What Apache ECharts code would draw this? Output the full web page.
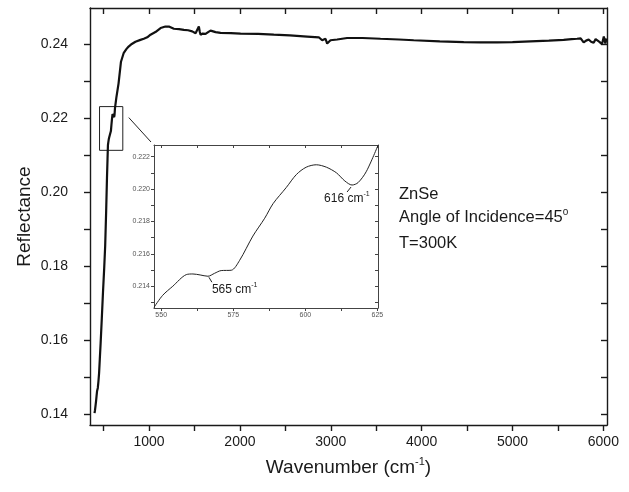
<!DOCTYPE html>
<html><head><meta charset="utf-8">
<script src="https://cdn.jsdelivr.net/npm/echarts@6/dist/echarts.min.js"></script>
<style>html,body{margin:0;padding:0;background:#fff}#c{width:629px;height:492px}</style>
</head><body><div id="c"></div>
<script>
// ---- data ----
const mainWavenumber = [400,405,411,417,422,428,436,443,450,458,467,480,493,506,517,528,537,543,547.5,551,556,561,566,571,575,580,586,592,598,604,610,616,620,625,640,664,691,720,750,775,810,850,905,942,980,1016,1070,1127,1180,1218,1273,1330,1383,1430,1475,1512,1530,1548,1558,1567,1590,1622,1650,1677,1705,1732,1787,1900,2007,2200,2373,2550,2740,2868,2890,2905,2925,2942,2960,2975,2997,3070,3180,3350,3547,3750,3913,4200,4463,4650,4830,5000,5197,5400,5563,5650,5710,5750,5783,5810,5838,5865,5893,5915,5930,5960,5985,6005,6022,6035];
const mainReflectance = [0.1404,0.1412,0.1424,0.1437,0.1450,0.1464,0.1472,0.1490,0.1512,0.1550,0.1593,0.1660,0.1730,0.1794,0.1855,0.1950,0.2040,0.2090,0.2127,0.2134,0.2142,0.21476,0.21462,0.21497,0.2150,0.2165,0.2182,0.2198,0.2211,0.2215,0.2211,0.22025,0.2209,0.2227,0.2255,0.2293,0.2352,0.2375,0.2386,0.2393,0.2400,0.2406,0.2411,0.2414,0.2418,0.2425,0.2432,0.2443,0.2447,0.2447,0.2441,0.2440,0.2438,0.2437,0.2434,0.2429,0.2432,0.2447,0.2433,0.2425,0.2428,0.2427,0.2432,0.2436,0.2434,0.2432,0.2430,0.2429,0.2428,0.2427,0.2425,0.2423,0.2420,0.2418,0.2416,0.2410,0.2413,0.2414,0.2401,0.2404,0.2410,0.2412,0.2416,0.2416,0.2414,0.2412,0.2410,0.2407,0.2405,0.2404,0.2404,0.2405,0.2407,0.2409,0.2411,0.2413,0.2414,0.2415,0.2404,0.2409,0.2412,0.2406,0.2403,0.2413,0.2418,0.2405,0.2399,0.2420,0.2401,0.2415];
const insetWavenumber = [547.5,550.5,554,558.7,561,563.5,566.2,568.5,570.8,574.3,577.2,581.8,585.9,588.8,593.4,596.9,600.3,603.8,607.3,610.8,613.7,616.2,618.3,621.2,625.2];
const insetReflectance = [0.2127,0.21344,0.2140,0.21472,0.21476,0.2147,0.21462,0.2148,0.21497,0.21499,0.2156,0.2171,0.2182,0.2191,0.2201,0.2209,0.22135,0.2215,0.22135,0.2210,0.2205,0.22025,0.2204,0.2211,0.2227];
const mainXTicks = [500,1000,1500,2000,2500,3000,3500,4000,4500,5000,5500,6000];
const mainXLabels = [1000,2000,3000,4000,5000,6000];
const mainYTicks = [0.14,0.15,0.16,0.17,0.18,0.19,0.20,0.21,0.22,0.23,0.24];
const mainYLabels = [0.14,0.16,0.18,0.20,0.22,0.24];
const insetXTicks = [550,562.5,575,587.5,600,612.5,625];
const insetXLabels = [550,575,600,625];
const insetYTicks = [0.213,0.214,0.215,0.216,0.217,0.218,0.219,0.220,0.221,0.222];
const insetYLabels = [0.214,0.216,0.218,0.220,0.222];
const peakLabels = ['565', '616'];
const peakPositions = [566.2, 616.2];
const peakValues = [0.21462, 0.22025];
const zoomBox = {x0: 455, x1: 711, y0: 0.2113, y1: 0.2231};

const FONT = 'Liberation Sans, Arial, Helvetica, sans-serif';
const chart = echarts.init(document.getElementById('c'), null, {renderer: 'canvas'});

const AX = '#1a1a1a';
function xAx(grid, pos, min, max, ticks, labels, opt) {
  const inside = pos === 'top';
  return {
    type: 'value', gridIndex: grid, position: pos, min: min, max: max,
    axisLine: {show: true, onZero: false, lineStyle: {color: opt.color, width: opt.w}},
    axisTick: {show: true, inside: inside, length: opt.tl, customValues: ticks, lineStyle: {color: opt.color, width: opt.w}},
    axisLabel: {show: !inside, customValues: labels, fontSize: opt.fs, color: opt.lc, fontFamily: FONT, margin: opt.m,
      formatter: v => opt.fmt(v)},
    splitLine: {show: false}
  };
}
function yAx(grid, pos, min, max, ticks, labels, opt) {
  const inside = pos === 'right';
  return {
    type: 'value', gridIndex: grid, position: pos, min: min, max: max,
    axisLine: {show: true, onZero: false, lineStyle: {color: opt.color, width: opt.w}},
    axisTick: {show: true, inside: inside, length: opt.tl, customValues: ticks, lineStyle: {color: opt.color, width: opt.w}},
    axisLabel: {show: !inside, customValues: labels, fontSize: opt.fs, color: opt.lc, fontFamily: FONT, margin: opt.m,
      formatter: v => opt.fmt(v)},
    splitLine: {show: false}
  };
}
const mainOptX = {color: AX, w: 1.4, tl: 6, fs: 14, lc: '#1a1a1a', m: 10, fmt: v => String(Math.round(v))};
const mainOptY = {color: AX, w: 1.4, tl: 6, fs: 14, lc: '#1a1a1a', m: 22, fmt: v => v.toFixed(2)};
const inOptX = {color: '#444', w: 1, tl: 3, fs: 7, lc: '#555', m: 4, fmt: v => String(Math.round(v))};
const inOptY = {color: '#444', w: 1, tl: 3, fs: 7, lc: '#555', m: 4, fmt: v => v.toFixed(3)};

const xMain = xAx(0, 'bottom', 350, 6040, mainXTicks, mainXLabels, mainOptX);
xMain.name = '{n|Wavenumber (cm}{s|-1}{n|)}';
xMain.nameLocation = 'middle';
xMain.nameGap = 31;
xMain.nameMoveOverlap = false;
xMain.nameTextStyle = {rich: {
  n: {fontSize: 19, fontFamily: FONT, color: '#1a1a1a', lineHeight: 23},
  s: {fontSize: 11, fontFamily: FONT, color: '#1a1a1a', verticalAlign: 'top', lineHeight: 23}
}};
const yMain = yAx(0, 'left', 0.1372, 0.2497, mainYTicks, mainYLabels, mainOptY);
yMain.name = 'Reflectance';
yMain.nameLocation = 'middle';
yMain.nameGap = 56;
yMain.nameMoveOverlap = false;
yMain.nameTextStyle = {fontSize: 19, fontFamily: FONT, color: '#1a1a1a'};

const option = {
  animation: false,
  backgroundColor: '#fff',
  grid: [
    {left: 90, right: 22, top: 8, bottom: 67},
    {left: 154, top: 145, width: 224, height: 163}
  ],
  xAxis: [
    xMain,
    xAx(0, 'top', 350, 6040, mainXTicks, mainXLabels, mainOptX),
    xAx(1, 'bottom', 547.5, 625.2, insetXTicks, insetXLabels, inOptX),
    xAx(1, 'top', 547.5, 625.2, insetXTicks, insetXLabels, inOptX)
  ],
  yAxis: [
    yMain,
    yAx(0, 'right', 0.1372, 0.2497, mainYTicks, mainYLabels, mainOptY),
    yAx(1, 'left', 0.21266, 0.22272, insetYTicks, insetYLabels, inOptY),
    yAx(1, 'right', 0.21266, 0.22272, insetYTicks, insetYLabels, inOptY)
  ],
  series: [
    {
      type: 'line', xAxisIndex: 0, yAxisIndex: 0, showSymbol: false, z: 3,
      data: mainWavenumber.map((w, i) => [w, mainReflectance[i]]),
      lineStyle: {color: '#111', width: 2.2},
      markArea: {silent: true, itemStyle: {color: 'rgba(0,0,0,0)', borderColor: '#222', borderWidth: 1},
        data: [[{xAxis: zoomBox.x0, yAxis: zoomBox.y0}, {xAxis: zoomBox.x1, yAxis: zoomBox.y1}]]}
    },
    {
      type: 'line', xAxisIndex: 2, yAxisIndex: 2, showSymbol: false, smooth: 0.3, z: 5,
      data: insetWavenumber.map((w, i) => [w, insetReflectance[i]]),
      lineStyle: {color: '#222', width: 1}
    }
  ]
};
chart.setOption(option);

// decorations: leader lines & annotation texts
const boxPt = chart.convertToPixel({xAxisIndex: 0, yAxisIndex: 0}, [zoomBox.x1, zoomBox.y1]);
const insetCorner = chart.convertToPixel({xAxisIndex: 2, yAxisIndex: 2}, [547.5, 0.22272]);
const p1 = chart.convertToPixel({xAxisIndex: 2, yAxisIndex: 2}, [peakPositions[0], peakValues[0]]);
const p2 = chart.convertToPixel({xAxisIndex: 2, yAxisIndex: 2}, [peakPositions[1], peakValues[1]]);
const richTxt = (fs) => ({
  n: {fontSize: fs, fontFamily: FONT, fill: '#1a1a1a', lineHeight: fs + 4},
  s: {fontSize: Math.round(fs * 0.6), fontFamily: FONT, fill: '#1a1a1a', verticalAlign: 'top', lineHeight: fs + 4}
});
chart.setOption({graphic: [
  {type: 'line', shape: {x1: boxPt[0] + 6, y1: boxPt[1] + 11, x2: insetCorner[0] - 3, y2: insetCorner[1] - 3},
   style: {stroke: '#222', lineWidth: 1}},
  {type: 'line', shape: {x1: p1[0] + 1, y1: p1[1] + 1, x2: p1[0] + 4, y2: p1[1] + 6}, style: {stroke: '#222', lineWidth: 1}},
  {type: 'line', shape: {x1: p2[0] - 1, y1: p2[1] + 2, x2: p2[0] - 5, y2: p2[1] + 7}, style: {stroke: '#222', lineWidth: 1}},
  {type: 'text', x: p1[0] + 4, y: p1[1] + 5, style: {text: '{n|' + peakLabels[0] + ' cm}{s|-1}', rich: richTxt(12), fill: '#1a1a1a'}},
  {type: 'text', x: p2[0] - 28, y: p2[1] + 6, style: {text: '{n|' + peakLabels[1] + ' cm}{s|-1}', rich: richTxt(12), fill: '#1a1a1a'}},
  {type: 'text', x: 399, y: 186, style: {text: 'ZnSe', font: '16.5px ' + FONT, fill: '#1a1a1a'}},
  {type: 'text', x: 399, y: 207, style: {text: '{n|Angle of Incidence=45}{s|o}', rich: richTxt(16.5), fill: '#1a1a1a'}},
  {type: 'text', x: 399, y: 235, style: {text: 'T=300K', font: '16.5px ' + FONT, fill: '#1a1a1a'}}
]});
</script></body></html>
